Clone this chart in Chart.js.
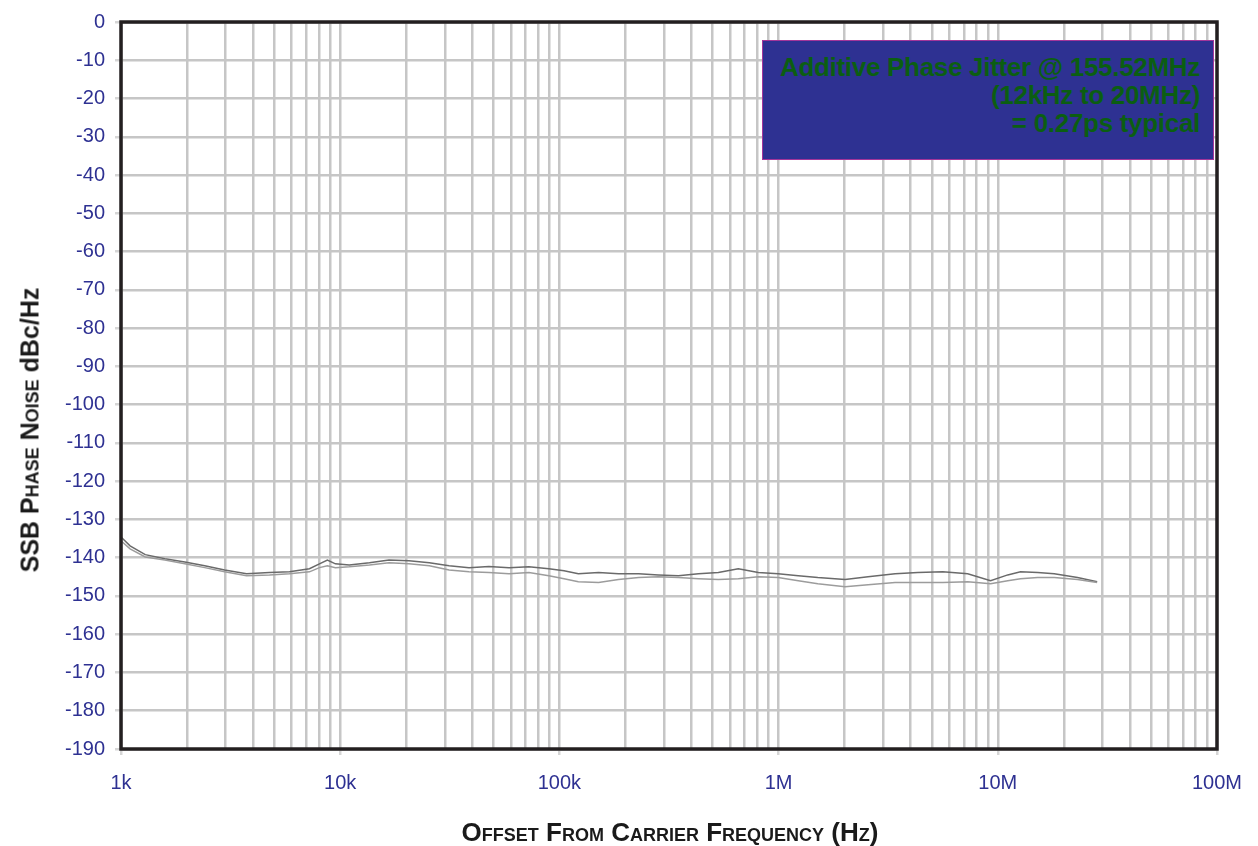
<!DOCTYPE html>
<html>
<head>
<meta charset="utf-8">
<script src="https://cdn.jsdelivr.net/npm/chart.js@4.4.1/dist/chart.umd.min.js"></script>
<style>
  body { margin: 0; background: #fff; font-family: "Liberation Sans", Arial, sans-serif; }
  #wrap { position: relative; width: 1258px; height: 846px; }
  .ytitle {
    position: absolute; left: 30px; top: 430px;
    transform: translate(-50%, -50%) rotate(-90deg);
    white-space: nowrap; font-weight: bold; font-size: 25px; color: #1a1a1a;
  }
  .xtitle {
    position: absolute; left: 670px; top: 832px;
    transform: translate(-50%, -50%);
    white-space: nowrap; font-weight: bold; font-size: 26px; color: #1a1a1a;
    font-variant: small-caps;
  }
  .sc { font-variant: small-caps; }
  .note {
    position: absolute; left: 762px; top: 40px; width: 452px; height: 120px;
    background: #2e3192; border: 1px solid #a3359a; box-sizing: border-box;
    color: #0b5e12; font-weight: bold; font-size: 26px; text-align: right;
    padding: 12px 13px 0 0; line-height: 28px; letter-spacing: -0.3px;
  }
</style>
</head>
<body>
<div id="wrap">
  <canvas id="myChart" width="1258" height="846"></canvas>
  <div class="ytitle">SSB <span class="sc">Phase Noise</span> dBc/Hz</div>
  <div class="xtitle">Offset From Carrier Frequency (Hz)</div>
  <div class="note">Additive Phase Jitter @ 155.52MHz<br>(12kHz to 20MHz)<br>= 0.27ps typical</div>
</div>
<script>
// offset frequencies (Hz)
var freqHz = [1000, 1100, 1290, 1585, 1955, 2410, 2970, 3740, 4760, 5870,
              7240, 8040, 8740, 9510, 11000, 13600, 16700, 20600, 25500, 31400,
              38700, 47700, 58900, 72600, 89500, 105000, 122000, 151000, 186000, 230000,
              283000, 349000, 431000, 531000, 655000, 808000, 995000, 1230000, 1510000, 2010000,
              2560000, 3400000, 4320000, 5610000, 7290000, 9270000, 11100000, 12700000, 15200000, 18100000,
              23100000, 28400000];
// phase noise traces (dBc/Hz)
var traceA = [-134.6, -136.9, -139.2, -140.3, -141.1, -142.1, -143.2, -144.2, -143.9, -143.7,
              -142.9, -141.6, -140.6, -141.6, -141.9, -141.3, -140.6, -140.8, -141.3, -142.1,
              -142.6, -142.3, -142.6, -142.4, -142.9, -143.4, -144.2, -143.9, -144.2, -144.2,
              -144.5, -144.7, -144.2, -143.9, -142.9, -143.9, -144.2, -144.7, -145.2, -145.7,
              -145.0, -144.2, -143.9, -143.7, -144.2, -146.0, -144.5, -143.7, -143.9, -144.2,
              -145.2, -146.3];
var traceB = [-135.6, -137.7, -139.8, -140.6, -141.6, -142.6, -143.7, -144.7, -144.5, -144.2,
              -143.7, -142.6, -142.1, -142.6, -142.4, -141.9, -141.3, -141.6, -142.1, -143.2,
              -143.7, -143.9, -144.2, -143.9, -144.7, -145.5, -146.3, -146.5, -145.7, -145.2,
              -145.0, -145.2, -145.5, -145.7, -145.5, -145.0, -145.2, -146.0, -146.8, -147.6,
              -147.1, -146.5, -146.5, -146.5, -146.3, -146.8, -146.0, -145.5, -145.2, -145.2,
              -145.7, -146.5];
var xDecades = [1e3, 1e4, 1e5, 1e6, 1e7, 1e8];
var xTickLabels = ["1k", "10k", "100k", "1M", "10M", "100M"];

function toPoints(ys) {
    return freqHz.map(function(f, i) { return { x: f, y: ys[i] }; });
}

var frame = {
    id: 'frame',
    afterDraw: function(chart) {
        var a = chart.chartArea, ctx = chart.ctx;
        ctx.save();
        ctx.strokeStyle = '#231f20';
        ctx.lineWidth = 3.5;
        ctx.strokeRect(a.left, a.top, a.right - a.left, a.bottom - a.top);
        ctx.restore();
    }
};

var ctx = document.getElementById('myChart').getContext('2d');
new Chart(ctx, {
    type: 'line',
    data: {
        datasets: [{
            data: toPoints(traceB),
            borderColor: '#9c9c9c',
            borderWidth: 1.5,
            pointRadius: 0,
            tension: 0
        }, {
            data: toPoints(traceA),
            borderColor: '#6a6a6a',
            borderWidth: 1.5,
            pointRadius: 0,
            tension: 0
        }]
    },
    options: {
        responsive: false,
        animation: false,
        layout: { padding: { left: 0, right: 38, top: 19, bottom: 0 } },
        plugins: { legend: { display: false }, tooltip: { enabled: false } },
        scales: {
            x: {
                type: 'logarithmic',
                min: 1e3,
                max: 1e8,
                afterBuildTicks: function(scale) {
                    var t = [];
                    xDecades.forEach(function(d, i) {
                        for (var m = 1; m <= 9; m++) {
                            if (i === xDecades.length - 1 && m > 1) break;
                            t.push({ value: d * m });
                        }
                    });
                    scale.ticks = t;
                },
                afterFit: function(scale) { scale.height = 97; },
                grid: {
                    color: '#c6c6c6',
                    lineWidth: 2.5,
                    tickLength: 6,
                    tickColor: function(c) {
                        return c.tick && xDecades.indexOf(c.tick.value) >= 0 ? '#d6d6d6' : 'rgba(0,0,0,0)';
                    }
                },
                border: { display: false },
                ticks: {
                    autoSkip: false,
                    maxRotation: 0,
                    padding: 16,
                    color: '#2e3192',
                    font: { family: 'Liberation Sans', size: 20 },
                    callback: function(v) {
                        var i = xDecades.indexOf(v);
                        return i >= 0 ? xTickLabels[i] : '';
                    }
                }
            },
            y: {
                min: -190,
                max: 0,
                afterFit: function(scale) { scale.width = 121; },
                grid: { color: '#c6c6c6', lineWidth: 2.5, tickLength: 6, tickColor: '#d6d6d6' },
                border: { display: false },
                ticks: {
                    stepSize: 10,
                    padding: 10,
                    color: '#2e3192',
                    font: { family: 'Liberation Sans', size: 20 }
                }
            }
        }
    },
    plugins: [frame]
});
</script>
</body>
</html>
